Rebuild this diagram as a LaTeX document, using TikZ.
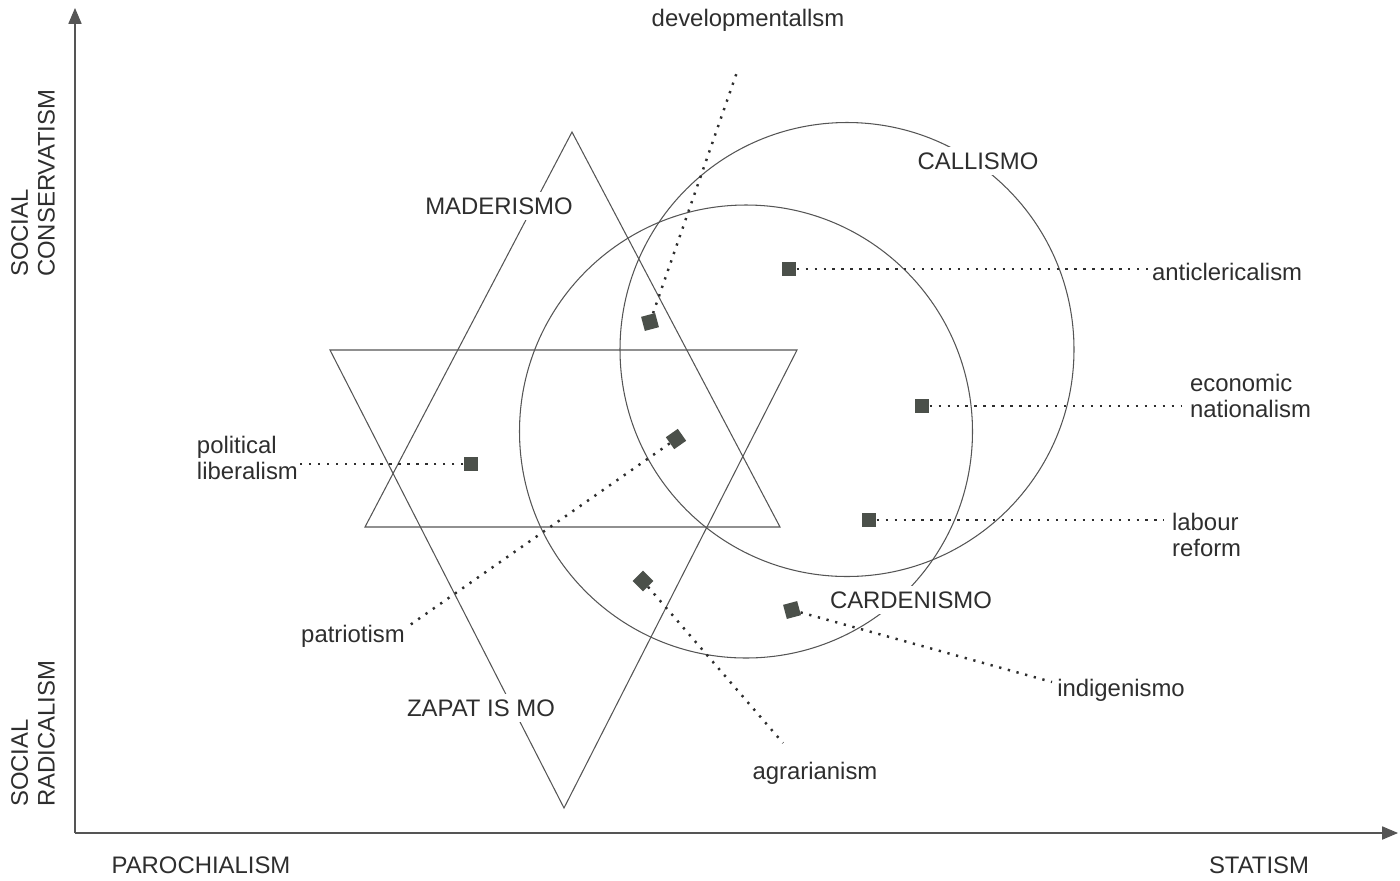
\documentclass[tikz,border=0pt]{standalone}
\usepackage{fontspec}
\setmainfont{Liberation Sans}
\usetikzlibrary{arrows.meta}
\definecolor{ink}{HTML}{2E2E2E}
\definecolor{shapecol}{HTML}{555555}
\definecolor{markcol}{HTML}{4B504A}
\begin{document}
\begin{tikzpicture}[x=0.02cm,y=-0.02cm,
  every node/.style={font=\fontsize{13.6}{15.3}\selectfont, text=ink, inner sep=1pt},
  axis/.style={draw=shapecol, line width=0.6pt, -{Triangle[length=9pt,width=7.5pt]}},
  outline/.style={draw=shapecol, line width=0.6pt},
  dots/.style={draw=ink, line width=1.4pt, dash pattern=on 1.3pt off 3.8pt},
  marker/.style={draw=none, fill=markcol, minimum size=8.3pt, inner sep=0pt, rectangle},
  plain/.style={align=left},
  tag/.style={fill=white, inner sep=3pt}]
\useasboundingbox (0,0) rectangle (1400,880);
% axes
\coordinate (o) at (75,833);
\coordinate (ytop) at (75,8);
\coordinate (xend) at (1398,833);
\draw[axis] (o) -- (ytop);
\draw[axis] (o) -- (xend);
\node[rotate=90, anchor=west, align=left] (sc) at (33,279) {SOCIAL\\CONSERVATISM};
\node[rotate=90, anchor=west, align=left] (sr) at (33,809) {SOCIAL\\RADICALISM};
\node (par) at (201,865) {PAROCHIALISM};
\node (sta) at (1259,865) {STATISM};
% triangles
\draw[outline] (572,132) -- (365,527) -- (780,527) -- cycle;
\draw[outline] (330,350) -- (797,350) -- (564,808) -- cycle;
% circles
\draw[outline] (847,349.5) circle (227);
\draw[outline] (746,431.5) circle (226.5);
% markers
\node[marker, rotate=15] (mdev) at (650,322) {};
\node[marker] (mant) at (789,269) {};
\node[marker] (meco) at (922,406) {};
\node[marker] (mlab) at (869,520) {};
\node[marker] (mpol) at (471,464) {};
\node[marker, rotate=35] (mpat) at (676,439) {};
\node[marker, rotate=45] (magr) at (643,581) {};
\node[marker, rotate=15] (mind) at (792,610) {};
% connector ends
\coordinate (edev) at (737,72);
\coordinate (eant) at (1150,269);
\coordinate (eeco) at (1182,406);
\coordinate (elab) at (1164,520);
\coordinate (epol) at (300,464);
\coordinate (epat) at (410,625);
\coordinate (eagr) at (783,743);
\coordinate (eind) at (1052,682);
\draw[dots] (mdev) -- (edev);
\draw[dots] (mant) -- (eant);
\draw[dots] (meco) -- (eeco);
\draw[dots] (mlab) -- (elab);
\draw[dots] (mpol) -- (epol);
\draw[dots] (mpat) -- (epat);
\draw[dots] (magr) -- (eagr);
\draw[dots] (mind) -- (eind);
% shape labels
\node[tag] (mad) at (499,206) {MADERISMO};
\node[tag] (zap) at (481,708) {ZAPAT IS MO};
\node[tag] (cal) at (978,161) {CALLISMO};
\node[tag] (car) at (911,600) {CARDENISMO};
% idea labels
\node (ldev) at (748,20) {developmentallsm};
\node[anchor=west] (lant) at (1150,272) {anticlericalism};
\node[anchor=west, plain] (leco) at (1188,396) {economic\\nationalism};
\node[anchor=west, plain] (llab) at (1170,535) {labour\\reform};
\node[anchor=east, plain] (lpol) at (300,458) {political\\liberalism};
\node (lpat) at (353,636) {patriotism};
\node (lagr) at (815,773) {agrarianism};
\node (lind) at (1121,690) {indigenismo};
\end{tikzpicture}
\end{document}
